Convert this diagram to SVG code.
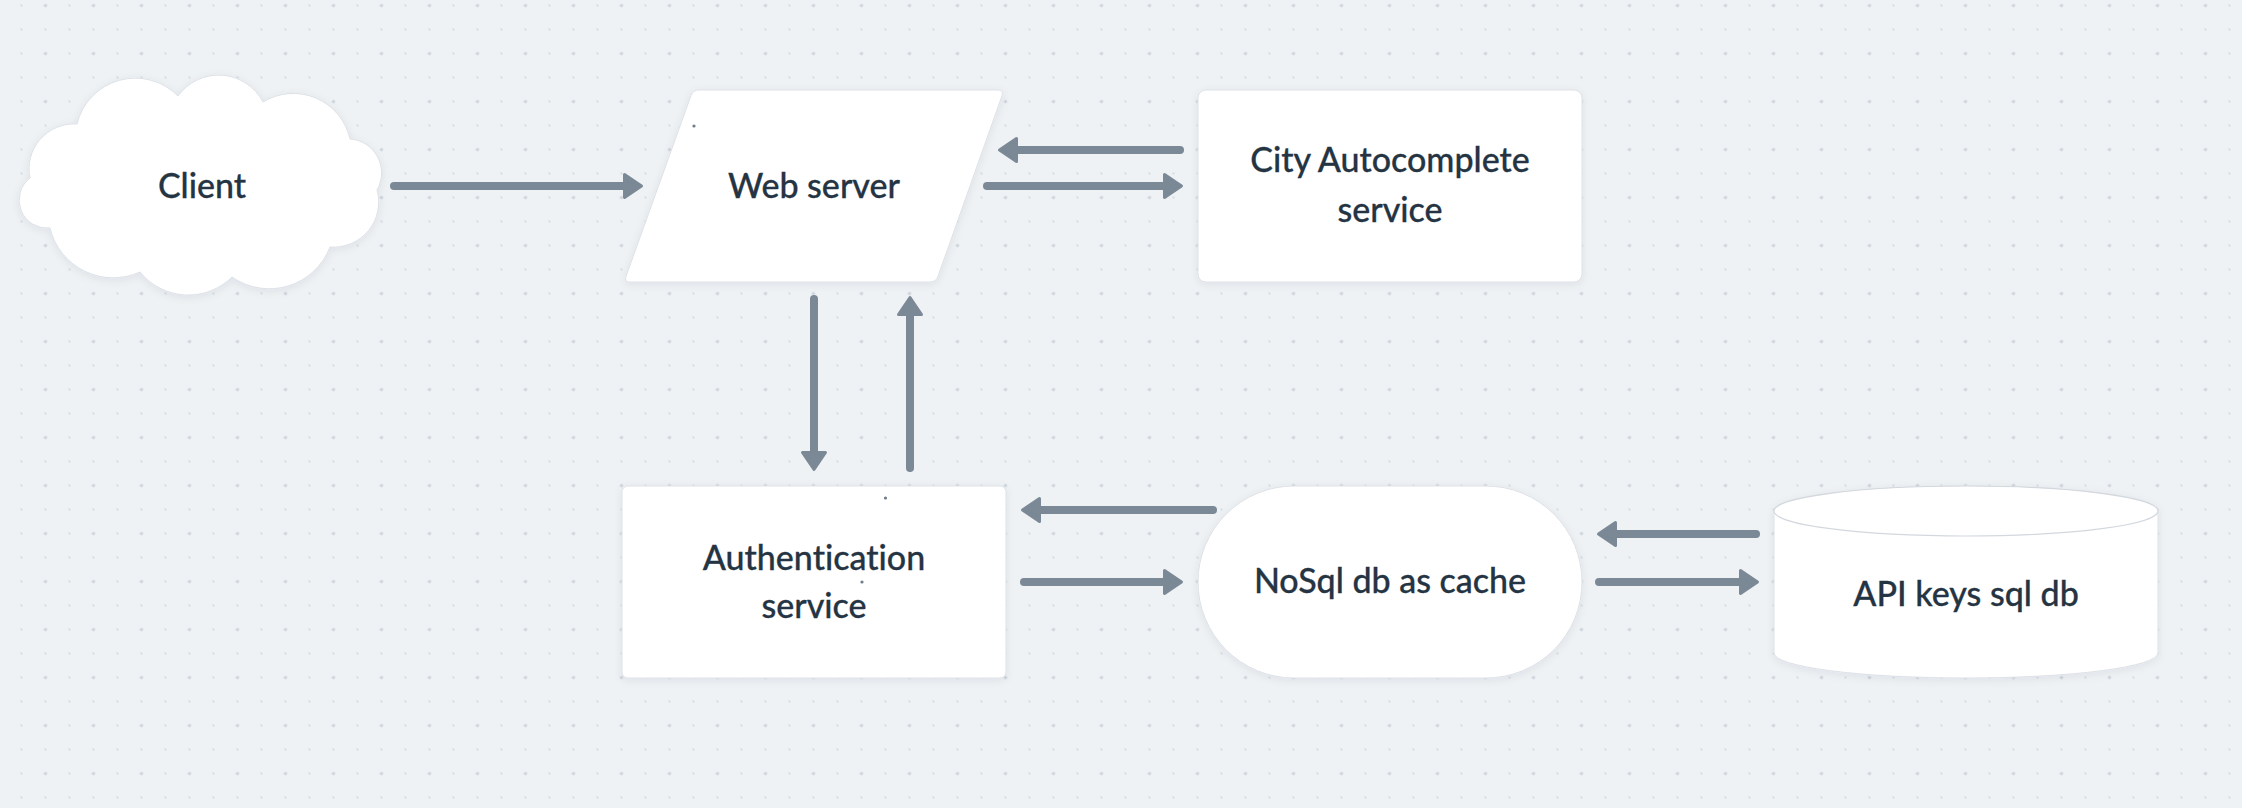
<svg xmlns="http://www.w3.org/2000/svg" width="2242" height="808" viewBox="0 0 2242 808">
<defs>
<pattern id="grid" x="9.5" y="-6.5" width="48" height="48" patternUnits="userSpaceOnUse">
<circle cx="12" cy="12" r="1.1" fill="#cfd6de"/>
<circle cx="36" cy="12" r="1.6" fill="#c6ced8"/>
<circle cx="12" cy="36" r="1.1" fill="#cfd6de"/>
<circle cx="36" cy="36" r="1.1" fill="#cfd6de"/>
</pattern>
<filter id="sh" x="-10%" y="-10%" width="120%" height="130%">
<feDropShadow dx="0" dy="2" stdDeviation="4" flood-color="#1b2a3a" flood-opacity="0.07"/>
</filter>
<marker id="ah" viewBox="-4 -16 26 32" markerWidth="26" markerHeight="32" refX="2" refY="0" orient="auto" markerUnits="userSpaceOnUse">
<path d="M0,-11.5 L17,0 L0,11.5 Z" fill="#7b8895" stroke="#7b8895" stroke-width="3" stroke-linejoin="round"/>
</marker>
</defs>
<style>
.shape{fill:#ffffff;stroke:#dde1e6;stroke-width:1;filter:url(#sh)}
.lbl{font-family:Lato,"Noto Sans","DejaVu Sans",sans-serif;font-size:34px;font-weight:500;fill:#253443;stroke:#253443;stroke-width:0.3;text-anchor:middle;font-variant-ligatures:none}
.conn{stroke:#7b8895;stroke-width:8;stroke-linecap:round;fill:none;marker-end:url(#ah)}
.spk{fill:#6f7c8a}
</style>
<rect width="2242" height="808" fill="#eef2f5"/>
<rect width="2242" height="808" fill="url(#grid)"/>

<g id="client">
<path class="shape" d="M50,228 A28,28 0 0 1 30,178 A45,45 0 0 1 77,124 A60,60 0 0 1 178,96 A50,50 0 0 1 263,102 A58,58 0 0 1 350,139 A34,34 0 0 1 377,190 A45,45 0 0 1 330,247 A65,65 0 0 1 232,277 A62,62 0 0 1 140,272 A65,65 0 0 1 50,228 Z"/>
<text class="lbl" x="202" y="198">Client</text>
</g>

<g id="web-server">
<path class="shape" d="M699,90 L998,90 Q1004,90 1002,95.7 L938,276.3 Q936,282 930,282 L630,282 Q624,282 626,276.4 L691,95.6 Q693,90 699,90 Z"/>
<text class="lbl" x="814" y="198">Web server</text>
<circle class="spk" cx="694" cy="126" r="1.6"/>
</g>

<g id="city-autocomplete">
<rect class="shape" x="1198" y="90" width="384" height="192" rx="8"/>
<text class="lbl" x="1390" y="172">City Autocomplete</text>
<text class="lbl" x="1390" y="222">service</text>
</g>

<g id="auth-service">
<rect class="shape" x="622" y="486" width="384" height="192" rx="6"/>
<text class="lbl" x="814" y="570">Authentication</text>
<text class="lbl" x="814" y="618">service</text>
<circle class="spk" cx="885.5" cy="498" r="1.6"/>
<circle class="spk" cx="862" cy="582" r="1.6"/>
</g>

<g id="nosql-cache">
<rect class="shape" x="1198" y="486" width="384" height="192" rx="96"/>
<text class="lbl" x="1390" y="593">NoSql db as cache</text>
</g>

<g id="api-keys-db">
<path class="shape" d="M1774,511 A192,25 0 0 1 2158,511 L2158,653 A192,25 0 0 1 1774,653 Z"/>
<ellipse cx="1966" cy="511" rx="192" ry="25" fill="#ffffff" stroke="#d3d8de" stroke-width="1.2"/>
<text class="lbl" x="1966" y="606">API keys sql db</text>
</g>

<g id="connectors">
<line class="conn" x1="394" y1="186" x2="626.5" y2="186"/>
<line class="conn" x1="1180" y1="150" x2="1014.5" y2="150"/>
<line class="conn" x1="987" y1="186" x2="1166.5" y2="186"/>
<line class="conn" x1="814" y1="299" x2="814" y2="454.5"/>
<line class="conn" x1="910" y1="468" x2="910" y2="312.5"/>
<line class="conn" x1="1213" y1="510" x2="1037.5" y2="510"/>
<line class="conn" x1="1024" y1="582" x2="1166.5" y2="582"/>
<line class="conn" x1="1756" y1="534" x2="1613.5" y2="534"/>
<line class="conn" x1="1599" y1="582" x2="1742.5" y2="582"/>
</g>
</svg>
